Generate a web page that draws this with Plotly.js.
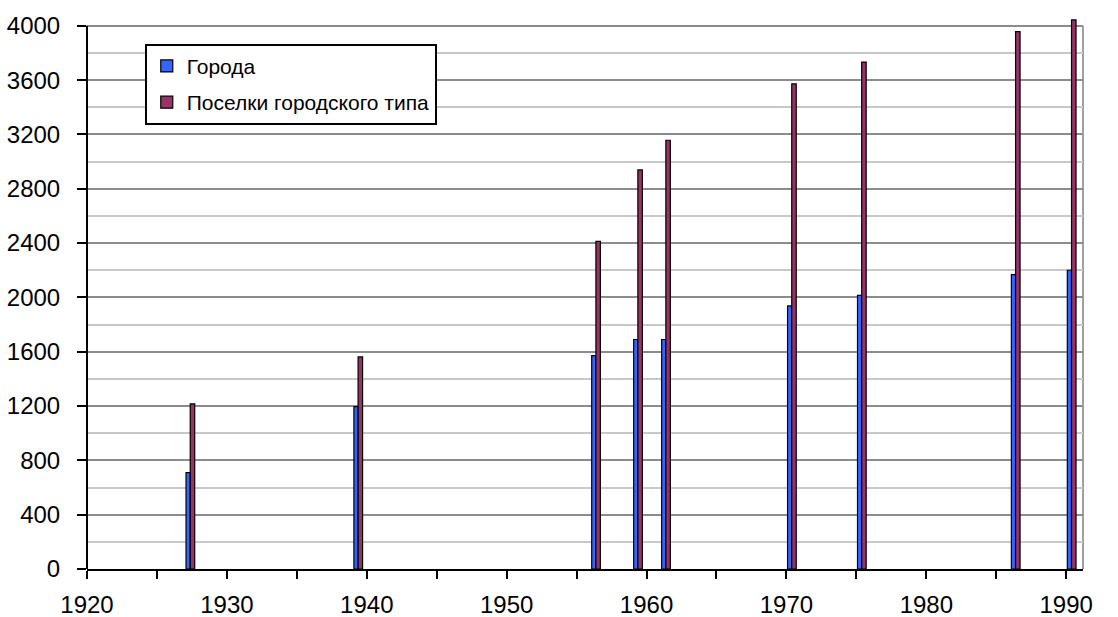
<!DOCTYPE html>
<html>
<head>
<meta charset="utf-8">
<script src="https://cdn.plot.ly/plotly-3.0.1.min.js"></script>
<style>
  html, body { margin: 0; padding: 0; background: #ffffff; }
  #chart { width: 1118px; height: 617px; }
</style>
</head>
<body>
<div id="chart"></div>
<script>
// Data
const years = [1927, 1939, 1956, 1959, 1961, 1970, 1975, 1986, 1990];
const cities = [710, 1196, 1571, 1690, 1690, 1937, 2015, 2168, 2200];
const settlements = [1216, 1562, 2412, 2939, 3157, 3572, 3733, 3957, 4043];
const seriesNames = ['Города', 'Поселки городского типа'];
const yTicks = [0, 400, 800, 1200, 1600, 2000, 2400, 2800, 3200, 3600, 4000];
const yMinorTicks = [200, 600, 1000, 1400, 1800, 2200, 2600, 3000, 3400, 3800];
const yTop = 4000;

const FONT = 'Liberation Sans, Arial, sans-serif';

const traces = [
  {
    type: 'bar', name: seriesNames[0], x: years, y: cities,
    offset: 0.08, width: 0.3,
    marker: { color: '#3366ff', line: { color: '#000000', width: 1.2 } },
    legendgroup: 'a', hoverinfo: 'x+y+name'
  },
  {
    type: 'bar', name: seriesNames[1], x: years, y: settlements,
    offset: 0.38, width: 0.32,
    marker: { color: '#993366', line: { color: '#000000', width: 1.2 } },
    legendgroup: 'b', hoverinfo: 'x+y+name'
  }
];

const layout = {
  width: 1118, height: 617,
  margin: { l: 87, r: 35, t: 19, b: 48, pad: 0 },
  paper_bgcolor: '#ffffff', plot_bgcolor: '#ffffff',
  font: { family: FONT, size: 20, color: '#000000' },
  barmode: 'overlay',
  showlegend: true,
  legend: {
    x: 0.058, y: 0.955, xanchor: 'left', yanchor: 'top',
    bgcolor: '#ffffff', bordercolor: '#000000', borderwidth: 2,
    font: { family: FONT, size: 21, color: '#000000' },
    traceorder: 'grouped', tracegroupgap: 6
  },
  xaxis: {
    range: [1920, 1991.2], tick0: 1920, dtick: 10,
    ticks: 'outside', ticklen: 8, tickwidth: 2, tickcolor: '#000000',
    minor: { dtick: 5, tick0: 1920, ticks: 'outside', ticklen: 8, tickwidth: 2, tickcolor: '#000000', showgrid: false },
    showline: true, linecolor: '#000000', linewidth: 2,
    showgrid: false, zeroline: false,
    tickfont: { family: FONT, size: 24, color: '#000000' },
    ticklabelstandoff: 5
  },
  yaxis: {
    range: [0, 4050],
    tickvals: yTicks,
    ticks: 'outside', ticklen: 9, tickwidth: 2, tickcolor: '#000000',
    showline: false,
    showgrid: true, gridcolor: '#8c8c8c', gridwidth: 2,
    minor: { tickvals: yMinorTicks, showgrid: true, gridcolor: '#c8c8c8', gridwidth: 2, ticks: '' },
    zeroline: false,
    tickfont: { family: FONT, size: 24, color: '#000000' },
    ticklabelstandoff: 12
  },
  shapes: [
    // right border of the plotting area (light grey), up to the top gridline
    { type: 'line', xref: 'paper', yref: 'y', x0: 1, x1: 1, y0: 0, y1: yTop,
      line: { color: '#a0a0a0', width: 2 }, layer: 'below' },
    // vertical value axis line, up to the top gridline
    { type: 'line', xref: 'paper', yref: 'y', x0: 0, x1: 0, y0: 0, y1: yTop,
      line: { color: '#000000', width: 2 }, layer: 'above' }
  ]
};

Plotly.newPlot('chart', traces, layout, { displayModeBar: false, staticPlot: true });
</script>
</body>
</html>
